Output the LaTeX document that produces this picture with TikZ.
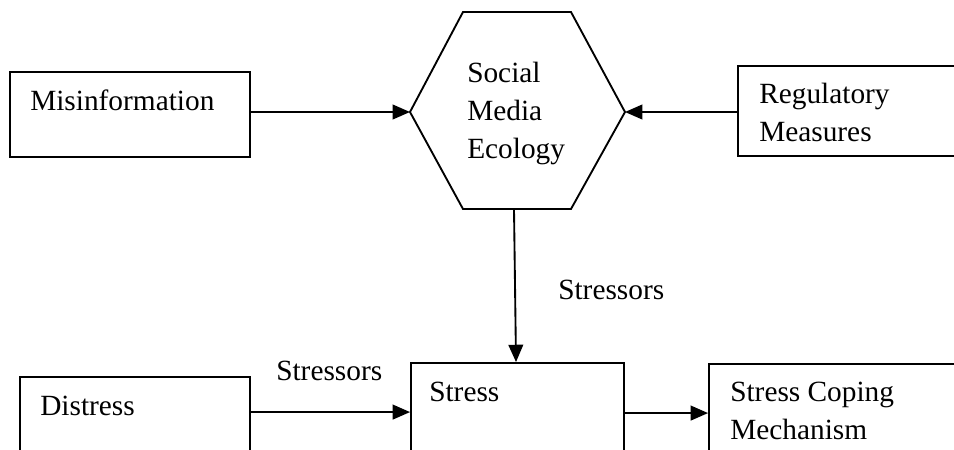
\documentclass[tikz,border=0pt]{standalone}
\usepackage{fontspec}
\setmainfont{Liberation Serif}
\usetikzlibrary{arrows.meta,fit}

\begin{document}
\begin{tikzpicture}[x=0.75pt,y=-0.75pt,
  box/.style={draw,line width=1.4pt,inner sep=0pt},
  lbl/.style={inner sep=0pt,anchor=base west,align=left,
    font=\fontsize{22}{28.5}\selectfont},
  arr/.style={line width=1.4pt,-{Triangle[length=13pt,width=11pt]}}]

% canvas (boxes running past the edges are cut off)
\fill[white] (0,0) rectangle (954,450);
\clip (0,0) rectangle (954,450);

% hexagon corners
\coordinate (hexL) at (410,112);
\coordinate (hexR) at (625,112);
\coordinate (hexS) at (514,209);
\draw[line width=1.4pt,line join=miter]
  (hexL) -- (463,12) -- (571,12) -- (hexR) -- (571,209) -- (463,209) -- cycle;
% multi-line labels are placed by the baseline of their last line
\node[lbl] (hex) at (467,158) {Social\\Media\\Ecology};

% rectangular boxes
\node[box,fit={(10,72)(250,157)}] (mis) {};
\node[lbl] (mistext) at (30,110) {Misinformation};

\node[box,fit={(738,66)(980,156)}] (reg) {};
\node[lbl] (regtext) at (759,141) {Regulatory\\Measures};

\node[box,fit={(20,377)(250,480)}] (dis) {};
\node[lbl] (distext) at (40,415) {Distress};

\node[box,fit={(411,363)(624,480)}] (stress) {};
\node[lbl] (stresstext) at (429,401) {Stress};

\node[box,fit={(709,364)(980,480)}] (cope) {};
\node[lbl] (copetext) at (730,439) {Stress Coping\\Mechanism};

% connectors
\draw[arr] (mis.east |- hexL) -- (hexL);
\draw[arr] (reg.west |- hexR) -- (hexR);
\draw[arr] (hexS) -- ([xshift=-1.1pt]stress.north);
\draw[arr] ([yshift=-27pt]dis.north east) -- ([yshift=-37.5pt]stress.north west);
\draw[arr] ([yshift=-38.25pt]stress.north east) -- ([yshift=-37.5pt]cope.north west);

% connector labels
\node[lbl] (lblv) at (558,299) {Stressors};
\node[lbl] (lblh) at (276,380) {Stressors};
\end{tikzpicture}
\end{document}
